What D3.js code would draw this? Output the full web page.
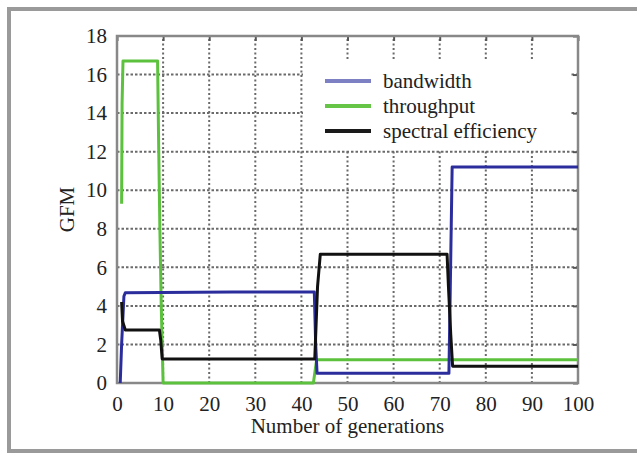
<!DOCTYPE html>
<html><head><meta charset="utf-8">
<script src="https://cdn.jsdelivr.net/npm/d3@7"></script>
<style>html,body{margin:0;padding:0;background:#fff;}svg{display:block;}</style>
</head><body>
<svg id="c" width="637" height="453"></svg>
<script>
const xTicks = [0,10,20,30,40,50,60,70,80,90,100];
const yTicks = [0,2,4,6,8,10,12,14,16,18];
const seriesNames = ["bandwidth","throughput","spectral efficiency"];
const legendColors = ["#7e80c4","#66c447","#1a1a1a"];
const lineColors = ["#2b2d9c","#5cc23e","#111111"];
const bandwidthX = [0.7,1.0,1.5,1.8,25,42.8,43.1,43.4,72.0,72.3,72.7,100];
const bandwidthY = [0,2.0,4.5,4.68,4.72,4.72,2.0,0.5,0.5,5.0,11.2,11.2];
const throughputX = [1.0,1.1,1.3,8.8,9.0,9.3,9.6,10.0,42.6,43.3,100];
const throughputY = [9.3,14.5,16.7,16.7,13,8,4,0,0,1.2,1.2];
const spectralX = [1.0,1.2,1.8,9.2,9.5,9.8,42.9,43.5,44.1,71.6,71.9,72.4,72.8,100];
const spectralY = [4.2,3.2,2.75,2.75,2.2,1.25,1.25,5.0,6.68,6.68,5.0,2.5,0.87,0.87];

const svg = d3.select("#c");
const L=117, R=578, T=36, B=383;
const x = d3.scaleLinear().domain([0,100]).range([L,R]);
const y = d3.scaleLinear().domain([0,18]).range([B,T]);

// outer frame
svg.append("rect").attr("x",9).attr("y",9).attr("width",640).attr("height",442)
  .attr("fill","none").attr("stroke","#9a9a9a").attr("stroke-width",4);

// grid
const g = svg.append("g");
g.selectAll(".vg").data(xTicks.slice(1,-1)).join("line")
  .attr("x1",d=>x(d)).attr("x2",d=>x(d)).attr("y1",B).attr("y2",T)
  .attr("stroke","#6a6a6a").attr("stroke-width",2).attr("stroke-dasharray","2,2.5");
g.selectAll(".hg").data(yTicks.slice(1,-1)).join("line")
  .attr("x1",L).attr("x2",R).attr("y1",d=>y(d)).attr("y2",d=>y(d))
  .attr("stroke","#6a6a6a").attr("stroke-width",2).attr("stroke-dasharray","2.5,2");

// legend background (covers grid)
const legG = svg.append("g");
legG.append("rect").attr("x",303).attr("y",60).attr("width",268).attr("height",90).attr("fill","#fff");

// axes
const fontFam = "'Liberation Serif','Times New Roman',serif";
const xa = svg.append("g").attr("transform",`translate(0,${B})`)
  .call(d3.axisBottom(x).tickValues(xTicks).tickSize(0).tickPadding(10));
const xaTop = svg.append("g").attr("transform",`translate(0,${T})`)
  .call(d3.axisTop(x).tickValues(xTicks).tickSize(-5).tickFormat(""));
const ya = svg.append("g").attr("transform",`translate(${L},0)`)
  .call(d3.axisLeft(y).tickValues(yTicks).tickSize(0).tickPadding(10));
const yaR = svg.append("g").attr("transform",`translate(${R},0)`)
  .call(d3.axisRight(y).tickValues(yTicks).tickSize(-5).tickFormat(""));
[xa,ya,xaTop,yaR].forEach(a=>{
  a.select(".domain").remove();
  a.selectAll("line").attr("stroke","#555").attr("stroke-width",2);
  a.selectAll("text").attr("font-family",fontFam).attr("font-size",21).attr("fill","#222");
});
xa.selectAll("text").attr("dy","0.85em");
svg.append("rect").attr("x",L).attr("y",T).attr("width",R-L).attr("height",B-T)
  .attr("fill","none").attr("stroke","#888").attr("stroke-width",2.5);

// lines
const data = [
  bandwidthX.map((d,i)=>[d,bandwidthY[i]]),
  throughputX.map((d,i)=>[d,throughputY[i]]),
  spectralX.map((d,i)=>[d,spectralY[i]])
];
const line = d3.line().x(d=>x(d[0])).y(d=>y(d[1]));
const order = [1,0,2];
order.forEach(i=>{
  svg.append("path").attr("d",line(data[i])).attr("fill","none")
    .attr("stroke",lineColors[i]).attr("stroke-width",3).attr("stroke-linejoin","round");
});

// legend
seriesNames.forEach((n,i)=>{
  const yy = 81 + i*25;
  legG.append("line").attr("x1",325).attr("x2",371).attr("y1",yy).attr("y2",yy)
    .attr("stroke",legendColors[i]).attr("stroke-width",4);
  legG.append("text").attr("x",383).attr("y",yy+7).text(n)
    .attr("font-family",fontFam).attr("font-size",21).attr("fill","#222");
});

// axis labels
svg.append("text").attr("x",(L+R)/2).attr("y",433).attr("text-anchor","middle")
  .attr("font-family",fontFam).attr("font-size",21).attr("fill","#222").text("Number of generations");
svg.append("text").attr("transform",`translate(74,${(T+B)/2}) rotate(-90)`).attr("text-anchor","middle")
  .attr("font-family",fontFam).attr("font-size",21).attr("fill","#222").text("GFM");
</script>
</body></html>
